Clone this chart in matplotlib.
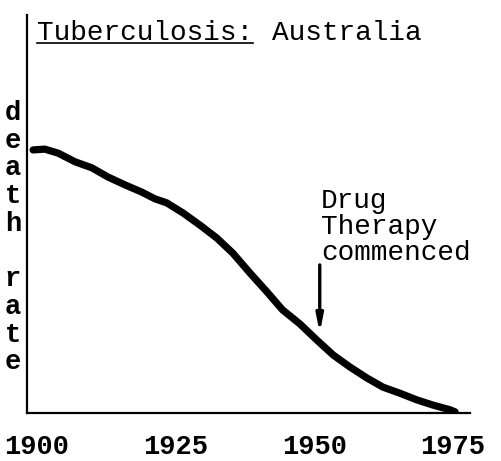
import matplotlib
matplotlib.use("Agg")
import matplotlib.pyplot as plt
from matplotlib.lines import Line2D

# death rate (relative units, 0 = x axis)
years = [1899.3, 1901.4, 1903.8, 1906.9, 1909.9, 1912.8, 1915.9, 1918.9,
         1921.3, 1923.4, 1926.3, 1929.4, 1932.4, 1935.3, 1938.4, 1941.5,
         1944.3, 1947.4, 1950.5, 1953.4, 1956.4, 1959.5, 1962.4, 1965.4,
         1968.5, 1971.4, 1974.5, 1975.4]
rate = [66.1, 66.3, 65.3, 63.1, 61.6, 59.3, 57.3, 55.5,
        53.8, 52.8, 50.3, 47.2, 44.0, 40.2, 35.2, 30.4,
        25.9, 22.4, 18.3, 14.6, 11.6, 8.8, 6.5, 5.0,
        3.3, 2.0, 0.8, 0.3]

tick_years = [1900, 1925, 1950, 1975]
tick_labels = ["1900", "1925", "1950", "1975"]
ylabel_letters = ["d", "e", "a", "t", "h", "", "r", "a", "t", "e"]

therapy_year = 1951.0
arrow_from, arrow_to = 37.2, 20.1

FONT = "Liberation Mono"
W, H = 501, 461

fig = plt.figure(figsize=(W / 100, H / 100), dpi=100)
ax = fig.add_axes([27 / W, 48 / H, (470 - 27) / W, (413 - 15) / H])

ax.plot(years, rate, color="black", lw=5.2, solid_capstyle="round",
        solid_joinstyle="round")

ax.set_xlim(1898.2, 1978.1)
ax.set_ylim(0, 100)

for s in ["top", "right"]:
    ax.spines[s].set_visible(False)
for s in ["left", "bottom"]:
    ax.spines[s].set_linewidth(1.6)

ax.set_xticks(tick_years)
ax.set_xticklabels(tick_labels, fontfamily=FONT, fontweight="bold", fontsize=19.5)
ax.tick_params(axis="x", length=0, pad=15)
ax.set_yticks([])

# vertical stacked y label
for i, ch in enumerate(ylabel_letters):
    if ch:
        fig.text(13 / W, 1 - (113 + i * 27.7) / H, ch, fontfamily=FONT,
                 fontweight="bold", fontsize=19.5, ha="center", va="center")

# annotation
ax.annotate("", xy=(therapy_year, arrow_to), xytext=(therapy_year, arrow_from),
            arrowprops=dict(arrowstyle="-|>,head_length=1.0,head_width=0.2",
                            color="black", lw=2.4, shrinkA=0, shrinkB=0))
ax.text(therapy_year + 0.2, 56.6, "Drug\nTherapy\ncommenced", fontfamily=FONT,
        fontsize=20, ha="left", va="top", linespacing=1.0)

# title with underlined first word
t1 = fig.text(37 / W, 1 - 40 / H, "Tuberculosis:", fontfamily=FONT,
              fontsize=20, ha="left", va="baseline")
t2 = fig.text(272 / W, 1 - 40 / H, "Australia", fontfamily=FONT,
              fontsize=20, ha="left", va="baseline")
fig.canvas.draw()
bb = t1.get_window_extent()
uy = 1 - 43 / H
fig.add_artist(Line2D([bb.x0 / W, bb.x1 / W], [uy, uy], color="black", lw=1.2,
                      transform=fig.transFigure))

fig.savefig("out.png", dpi=100)
